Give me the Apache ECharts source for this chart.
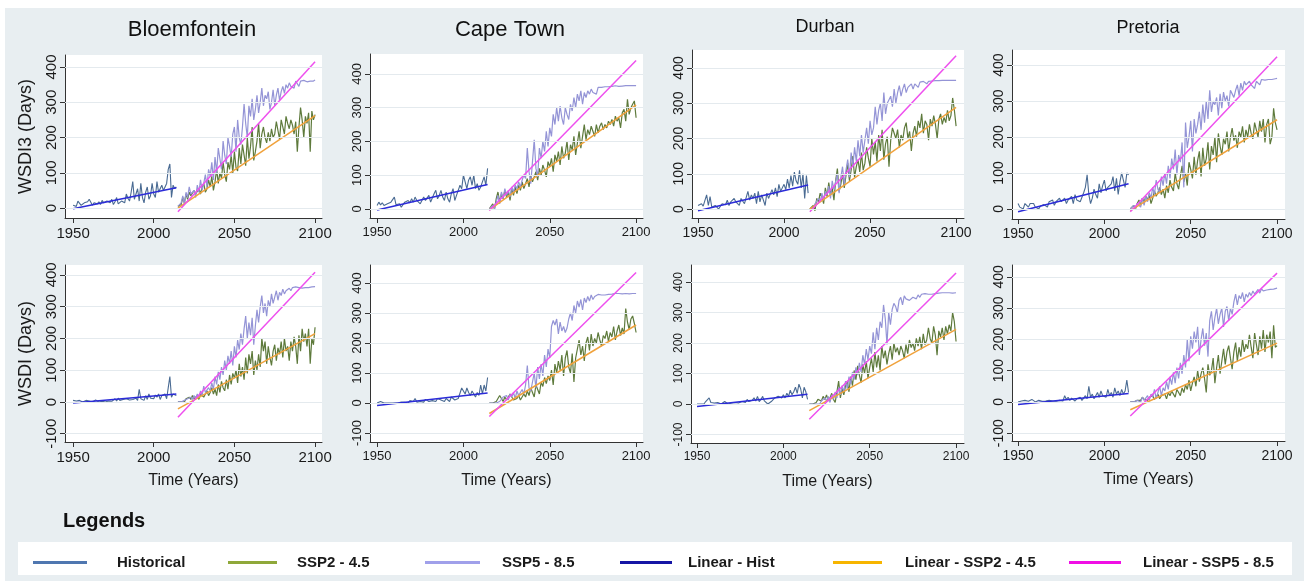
<!DOCTYPE html>
<html><head><meta charset="utf-8">
<script src="https://cdn.jsdelivr.net/npm/echarts@6/dist/echarts.min.js"></script>
<style>
html,body{margin:0;padding:0;background:#fff;}
#bg{position:absolute;left:5px;top:8px;width:1299px;height:573px;background:#e8eef1;}
#chart{position:absolute;left:0;top:0;width:1304px;height:581px;}
</style></head><body><div id="bg"></div><div id="chart"></div>
<script>
// ---------- DATA ----------
const cities = ['Bloemfontein', 'Cape Town', 'Durban', 'Pretoria'];
const histStart = 1950, histEnd = 2014, projStart = 2015, projEnd = 2100;
const xTicks = [1950, 2000, 2050, 2100];
const yTicksTop = [0, 100, 200, 300, 400];
const yTicksBottom = [-100, 0, 100, 200, 300, 400];
const seriesNames = ['Historical', 'SSP2 - 4.5', 'SSP5 - 8.5', 'Linear - Hist', 'Linear - SSP2 - 4.5', 'Linear - SSP5 - 8.5'];

// WSDI3 (top row)
const bloemWSDI3Hist = [8,3,5,20,25,8,12,15,10,18, 25,30,8,15,20,12,18,10,22,15, 12,20,18,15,25,10,18,30,12,15, 20,25,15,40,28,20,45,75,25,40, 55,20,70,30,15,45,60,25,35,70, 40,30,75,45,55,65,50,55,70,110, 125,30,65,55,60];
const bloemWSDI3Ssp2 = [5,2,10,30,15,40,25,45,35,30, 50,40,35,55,40,60,70,45,55,80, 60,90,50,75,110,70,100,85,130,95, 75,130,110,150,100,160,115,105,170,125, 180,150,120,200,140,175,230,135,160,190, 240,170,210,230,200,185,215,190,225,200, 210,245,220,195,250,230,210,260,240,225, 250,235,210,245,160,230,285,250,200,260, 240,270,160,275,250,265];
const bloemWSDI3Ssp5 = [5,0,15,35,10,45,30,60,40,35, 50,30,65,45,80,50,70,95,60,110, 90,130,80,145,100,170,140,110,190,150, 125,200,175,145,210,230,160,250,200,180, 230,295,240,200,290,260,310,250,280,320, 270,300,340,290,320,310,330,280,300,335, 290,320,340,305,330,345,325,350,340,355, 345,350,340,360,355,345,360,358,362,360, 358,362,360,364,360,363];
const bloemWSDI3Fit = [[-2,58],[0,262],[-10,415]];

const capeWSDI3Hist = [10,20,12,18,10,8,15,10,20,15, 35,12,8,15,5,10,20,15,25,18, 30,20,35,25,30,15,20,35,25,30, 40,20,25,45,55,30,40,55,35,25, 50,30,20,45,60,25,40,55,70,60, 100,80,60,85,95,70,100,60,75,55, 65,80,95,70,120];
const capeWSDI3Ssp2 = [0,5,15,0,30,50,20,45,30,55, 35,50,25,60,40,65,45,70,55,80, 60,75,90,65,100,80,95,110,85,120, 100,130,115,95,140,125,150,110,160,140, 170,130,185,150,165,200,145,190,175,215, 160,195,230,180,215,250,205,235,220,245, 230,215,250,225,245,255,235,250,240,260, 250,265,245,275,260,270,240,285,295,260, 325,280,300,310,320,270];
const capeWSDI3Ssp5 = [0,5,10,0,20,40,15,50,30,60, 40,55,35,65,50,70,60,80,65,85, 100,90,180,110,75,140,205,120,95,180, 150,200,170,230,185,240,215,280,250,300, 260,305,270,250,300,280,265,310,290,330, 300,340,320,350,310,345,330,350,340,355, 345,350,340,360,362,360,358,362,363,362, 364,363,362,365,364,363,365,364,365,365, 364,365,364,365,364,365];
const capeWSDI3Fit = [[-3,72],[-3,308],[-5,440]];

const durbanWSDI3Hist = [10,5,15,8,12,40,10,35,5,0, 10,5,0,8,15,20,12,25,10,20, 15,30,20,25,10,30,35,15,20,50, 25,40,30,45,15,50,20,40,35,10, 45,30,25,55,40,60,35,70,50,45, 70,55,85,60,95,65,105,80,70,110, 60,100,30,95,45];
const durbanWSDI3Ssp2 = [0,5,10,-5,30,20,45,35,15,60, 35,75,40,60,25,80,115,50,70,100, 60,95,130,80,110,150,90,120,140,105, 160,110,130,175,145,120,200,155,190,135, 210,165,225,140,185,205,120,195,230,215, 200,225,175,210,195,230,245,200,220,165, 215,235,205,250,230,270,215,250,240,195, 255,235,265,240,200,255,270,240,260,245, 280,250,265,315,280,235];
const durbanWSDI3Ssp5 = [0,-5,5,15,10,30,20,45,25,50, 40,65,30,80,55,60,100,45,90,120, 70,110,140,90,160,120,175,135,195,150, 210,160,195,230,185,250,210,230,290,240, 280,300,250,330,270,300,310,320,290,340, 300,330,350,320,340,355,330,345,350,355, 340,355,350,345,360,358,362,360,355,362, 360,363,362,364,363,364,362,365,364,365, 364,365,364,365,365,365];
const durbanWSDI3Fit = [[-5,68],[0,288],[-8,435]];

const pretoriaWSDI3Hist = [15,5,10,0,15,10,5,15,10,15, 5,10,0,8,5,12,10,5,20,15, 25,10,20,15,30,20,25,30,15,25, 20,35,15,40,25,30,20,25,45,60, 95,40,15,30,55,40,30,70,45,65, 80,50,60,55,70,90,50,85,40,75, 100,80,60,100,95];
const pretoriaWSDI3Ssp2 = [0,5,10,0,15,25,10,30,20,35, 25,40,15,30,50,35,45,60,40,55, 30,65,45,80,60,50,100,70,55,90, 120,75,100,65,130,110,85,145,95,135, 160,90,170,120,140,185,110,175,150,200, 130,210,175,150,195,180,215,160,200,225, 190,205,170,215,200,230,185,220,200,235, 210,195,240,220,200,245,215,250,185,235, 250,180,200,280,240,220];
const pretoriaWSDI3Ssp5 = [0,5,10,0,15,20,5,30,10,35, 20,45,30,60,40,80,55,45,90,65, 100,70,120,85,140,110,165,95,150,130, 185,60,240,170,200,245,160,250,210,235, 270,220,290,240,300,250,330,270,300,290, 310,260,320,280,325,300,315,285,330,320, 310,330,345,315,350,330,355,345,340,355, 345,350,335,355,360,345,360,355,358,362, 360,363,360,364,362,363];
const pretoriaWSDI3Fit = [[-8,70],[-5,248],[-8,423]];

// WSDI (bottom row)
const bloemWSDIHist = [5,0,3,0,5,2,0,3,5,0, 3,5,0,2,6,3,0,5,2,4, 0,5,3,8,2,5,10,3,12,5, 3,8,5,10,4,6,3,8,5,12, 5,40,10,15,5,20,8,25,12,18, 10,22,15,25,8,20,18,25,10,45, 80,15,25,30,20];
const bloemWSDISsp2 = [0,0,0,5,0,10,5,15,8,20, 10,15,20,8,25,30,15,20,35,20, 30,45,25,40,20,55,30,65,45,35, 70,40,85,55,90,75,100,60,120,80, 110,70,140,90,150,120,160,85,130,100, 150,110,200,160,190,120,175,140,115,160, 180,130,170,150,190,140,200,160,175,130, 190,160,205,175,120,210,160,230,190,215, 175,230,120,200,180,235];
const bloemWSDISsp5 = [0,0,0,0,5,0,10,5,15,8, 20,10,25,15,35,20,50,30,25,45, 35,60,40,80,55,95,70,110,85,130, 100,145,120,160,115,175,140,195,165,215, 180,230,270,200,250,210,265,180,240,290, 250,300,335,280,310,270,320,300,340,310, 330,350,320,345,335,355,340,350,345,358, 350,360,355,362,358,360,362,358,364,360, 362,360,364,362,365,363];
const bloemWSDIFit = [[-3,25],[-22,215],[-48,408]];

const capeWSDIHist = [0,0,5,8,0,3,0,2,0,3, 0,2,0,5,3,0,2,5,0,8, 10,5,15,3,8,5,10,3,12,8, 5,10,8,12,5,15,20,10,8,5, 15,10,5,20,25,10,8,15,20,50, 45,30,50,35,25,40,30,20,35,25, 60,30,60,40,85];
const capeWSDISsp2 = [0,0,0,0,5,10,25,15,5,20, 10,15,30,20,10,5,15,25,10,20, 30,20,40,25,50,35,20,60,45,30, 70,55,85,65,90,75,110,60,130,100, 140,110,160,90,150,175,120,100,165,70, 150,180,210,160,190,140,200,220,175,230, 190,215,200,235,210,190,225,215,240,205, 235,220,255,210,240,260,225,250,230,315, 270,245,280,290,265,235];
const capeWSDISsp5 = [0,0,0,0,0,0,5,10,20,15, 25,10,30,20,35,15,40,25,20,45, 30,60,125,50,40,70,100,50,120,80, 130,90,160,120,180,150,255,275,260,280, 230,270,240,255,235,250,280,300,275,325, 300,340,320,345,310,350,335,355,340,360, 345,355,350,362,358,360,362,360,364,362, 365,363,364,365,364,365,365,364,365,365, 365,364,365,365,364,365];
const capeWSDIFit = [[-8,33],[-35,260],[-45,435]];

const durbanWSDIHist = [0,5,0,3,0,8,2,20,5,0, 3,0,5,2,0,5,8,3,0,5, 3,8,5,10,3,5,8,12,5,15, 8,5,12,20,10,25,8,15,25,10, 5,0,3,8,10,20,15,25,30,20, 30,20,35,25,45,30,40,55,35,65, 50,20,55,40,15];
const durbanWSDISsp2 = [0,0,0,0,5,15,20,10,25,15, 30,10,20,35,15,5,40,75,20,50, 30,60,75,40,90,60,110,80,125,95, 70,130,100,140,85,120,150,105,170,120, 160,110,190,150,175,130,165,190,145,200, 170,185,160,190,175,150,195,165,210,185, 200,175,215,190,220,180,230,195,210,250, 215,200,255,225,160,240,220,250,210,255, 230,260,240,300,270,205];
const durbanWSDISsp5 = [0,0,0,0,0,5,0,10,5,20, 10,25,5,30,15,40,20,55,30,60, 40,75,50,90,65,105,80,120,95,135, 105,160,130,180,145,190,165,235,180,250, 210,270,250,325,280,195,300,260,310,330, 320,300,340,350,325,355,345,350,340,345, 350,355,345,358,350,360,355,362,358,360, 362,360,364,362,365,364,363,365,364,365, 364,365,365,364,365,365];
const durbanWSDIFit = [[-8,32],[-22,245],[-50,430]];

const pretoriaWSDIHist = [0,0,3,0,5,0,2,5,8,3, 0,3,5,0,2,5,3,0,5,2, 3,5,2,8,5,10,3,20,8,15, 5,12,8,3,10,8,15,5,12,20, 10,50,15,25,10,20,30,15,35,20, 25,15,40,20,30,15,45,25,35,20, 40,25,35,70,30];
const pretoriaWSDISsp2 = [0,0,0,0,5,10,5,15,8,12, 5,15,10,20,8,15,25,10,20,15, 25,10,30,20,35,25,15,40,30,20, 45,30,55,40,70,35,60,80,50,100, 65,90,110,75,30,120,85,100,140,60, 110,150,90,130,170,120,160,180,140,105, 160,190,130,175,145,200,160,185,170,215, 175,140,220,185,150,210,170,230,160,215, 190,225,140,245,175,180];
const pretoriaWSDISsp5 = [0,0,0,0,5,10,0,15,5,10, 20,5,25,15,40,10,30,50,20,45, 35,65,40,80,55,95,60,110,75,125, 90,150,110,200,130,210,170,225,190,240, 150,200,235,180,220,145,260,290,230,270, 300,250,280,300,240,290,305,260,300,280, 320,345,310,340,330,350,320,345,335,350, 340,355,345,350,360,348,362,355,360,358, 362,360,363,361,362,364];
const pretoriaWSDIFit = [[-8,27],[-25,188],[-45,412]];

// ---------- LAYOUT / STYLE ----------
const FONT = "'Liberation Sans', Arial, sans-serif";
const lineColors = ['#4a6b93', '#5e7a3c', '#9494d6', '#2b2bd8', '#f0a23c', '#ee50ee'];
const legendColors = ['#4f77b0', '#8fa83a', '#a0a0ea', '#1515a5', '#f7b500', '#f00fe5'];

const panels = [
  {d:[bloemWSDI3Hist, bloemWSDI3Ssp2, bloemWSDI3Ssp5, bloemWSDI3Fit], l:65, t:55, w:257, h:163, x0:1945, x1:2104.3, y0:-28, y1:434, fs:15, yt:yTicksTop, yName:'WSDI3 (Days)'},
  {d:[capeWSDI3Hist, capeWSDI3Ssp2, capeWSDI3Ssp5, capeWSDI3Fit], l:370, t:54, w:273, h:164, x0:1945.9, x1:2104, y0:-27, y1:459, fs:13, yt:yTicksTop},
  {d:[durbanWSDI3Hist, durbanWSDI3Ssp2, durbanWSDI3Ssp5, durbanWSDI3Fit], l:692, t:50, w:272, h:168, x0:1946.5, x1:2104.6, y0:-25.5, y1:451, fs:14, yt:yTicksTop},
  {d:[pretoriaWSDI3Hist, pretoriaWSDI3Ssp2, pretoriaWSDI3Ssp5, pretoriaWSDI3Fit], l:1012, t:50, w:273, h:169, x0:1946.5, x1:2104.6, y0:-28, y1:442, fs:14, yt:yTicksTop},
  {d:[bloemWSDIHist, bloemWSDISsp2, bloemWSDISsp5, bloemWSDIFit], l:65, t:265, w:257, h:177, x0:1945, x1:2104.3, y0:-126, y1:431, fs:15, yt:yTicksBottom, yName:'WSDI (Days)', xName:true},
  {d:[capeWSDIHist, capeWSDISsp2, capeWSDISsp5, capeWSDIFit], l:370, t:265, w:273, h:177, x0:1945.9, x1:2104, y0:-130, y1:460, fs:13, yt:yTicksBottom, xName:true},
  {d:[durbanWSDIHist, durbanWSDISsp2, durbanWSDISsp5, durbanWSDIFit], l:691, t:265, w:273, h:178, x0:1946.5, x1:2104.6, y0:-128, y1:456, fs:12, yt:yTicksBottom, xName:true},
  {d:[pretoriaWSDIHist, pretoriaWSDISsp2, pretoriaWSDISsp5, pretoriaWSDIFit], l:1012, t:265, w:273, h:176, x0:1946.5, x1:2104.6, y0:-125, y1:438, fs:14, yt:yTicksBottom, xName:true}
];

const titles = [
  {x:192, y:30, fs:22}, {x:510, y:30, fs:22}, {x:825, y:27, fs:18}, {x:1148, y:28, fs:18}
];

const legendLayout = [
  {x:33, w:54, pad:25}, {x:228, w:49, pad:15}, {x:425, w:55, pad:17},
  {x:620, w:52, pad:11}, {x:833, w:49, pad:18}, {x:1069, w:52, pad:17}
];

const grid = [], xAxis = [], yAxis = [], series = [];
const axisLineStyle = {color:'#333', width:1};
const plainNum = v => String(Math.round(v));
panels.forEach((p, i) => {
  grid.push({left:p.l, top:p.t, width:p.w, height:p.h, show:true, backgroundColor:'#ffffff', borderWidth:0, containLabel:false});
  xAxis.push({
    type:'value', gridIndex:i, min:p.x0, max:p.x1,
    axisLine:{show:true, onZero:false, lineStyle:axisLineStyle},
    axisTick:{show:true, length:5, customValues:xTicks, lineStyle:axisLineStyle},
    axisLabel:{customValues:xTicks, formatter:plainNum, margin:8, fontSize:p.fs, color:'#1a1a1a', fontFamily:FONT},
    splitLine:{show:false},
    name: p.xName ? 'Time (Years)' : '', nameLocation:'middle', nameGap:31,
    nameTextStyle:{fontSize:16, color:'#1a1a1a', fontFamily:FONT}
  });
  yAxis.push({
    type:'value', gridIndex:i, min:p.y0, max:p.y1,
    axisLine:{show:true, onZero:false, lineStyle:axisLineStyle},
    axisTick:{show:true, length:5, customValues:p.yt, lineStyle:axisLineStyle},
    axisLabel:{customValues:p.yt, formatter:plainNum, rotate:90, margin:6, fontSize:p.fs, color:'#1a1a1a', fontFamily:FONT},
    splitLine:{show:false},
    name: p.yName || '', nameLocation:'middle', nameGap:30,
    nameTextStyle:{fontSize:18, color:'#1a1a1a', fontFamily:FONT}
  });
  const [hist, ssp2, ssp5, fit] = p.d;
  const base = {type:'line', xAxisIndex:i, yAxisIndex:i, symbol:'none', showSymbol:false, animation:false, silent:true};
  series.push(Object.assign({}, base, {
    name:seriesNames[0], z:2,
    data: hist.map((v, k) => [histStart + k, v]),
    lineStyle:{color:lineColors[0], width:1.1}, itemStyle:{color:lineColors[0]},
    markLine:{silent:true, symbol:'none', animation:false, label:{show:false},
      lineStyle:{color:'#e4eaee', width:1, type:'solid'},
      data: p.yt.map(v => ({yAxis:v}))}
  }));
  series.push(Object.assign({}, base, {
    name:seriesNames[1], z:3,
    data: ssp2.map((v, k) => [projStart + k, v]),
    lineStyle:{color:lineColors[1], width:1.2}, itemStyle:{color:lineColors[1]}
  }));
  series.push(Object.assign({}, base, {
    name:seriesNames[2], z:3,
    data: ssp5.map((v, k) => [projStart + k, v]),
    lineStyle:{color:lineColors[2], width:1.2}, itemStyle:{color:lineColors[2]}
  }));
  series.push(Object.assign({}, base, {
    name:seriesNames[3], z:4,
    data: [[histStart, fit[0][0]], [histEnd, fit[0][1]]],
    lineStyle:{color:lineColors[3], width:1.5}, itemStyle:{color:lineColors[3]}
  }));
  series.push(Object.assign({}, base, {
    name:seriesNames[4], z:4,
    data: [[projStart, fit[1][0]], [projEnd, fit[1][1]]],
    lineStyle:{color:lineColors[4], width:1.5}, itemStyle:{color:lineColors[4]}
  }));
  series.push(Object.assign({}, base, {
    name:seriesNames[5], z:4,
    data: [[projStart, fit[2][0]], [projEnd, fit[2][1]]],
    lineStyle:{color:lineColors[5], width:1.5}, itemStyle:{color:lineColors[5]}
  }));
});

const title = cities.map((c, i) => ({
  text:c, left:titles[i].x, top:titles[i].y, textAlign:'center', textVerticalAlign:'middle', padding:0,
  textStyle:{fontSize:titles[i].fs, fontWeight:'normal', color:'#111', fontFamily:FONT}
}));

const legend = seriesNames.map((n, k) => ({
  left:legendLayout[k].x, top:555, padding:0, icon:'rect',
  itemWidth:legendLayout[k].w, itemHeight:3, selectedMode:false,
  data:[{name:n, itemStyle:{color:legendColors[k]}}],
  textStyle:{fontFamily:FONT, fontWeight:'bold', fontSize:15, color:'#1a1a1a', padding:[0,0,0,legendLayout[k].pad]}
}));

const option = {
  animation:false,
  backgroundColor:'transparent',
  title, legend, grid, xAxis, yAxis, series,
  graphic:[
    {type:'rect', left:18, top:542, shape:{width:1274, height:33}, style:{fill:'#ffffff'}, z:-1, silent:true},
    {type:'text', left:63, top:511, style:{text:'Legends', font:"bold 20px 'Liberation Sans', Arial, sans-serif", fill:'#111'}, silent:true}
  ]
};

const chart = echarts.init(document.getElementById('chart'), null, {renderer:'canvas'});
chart.setOption(option);
</script></body></html>
